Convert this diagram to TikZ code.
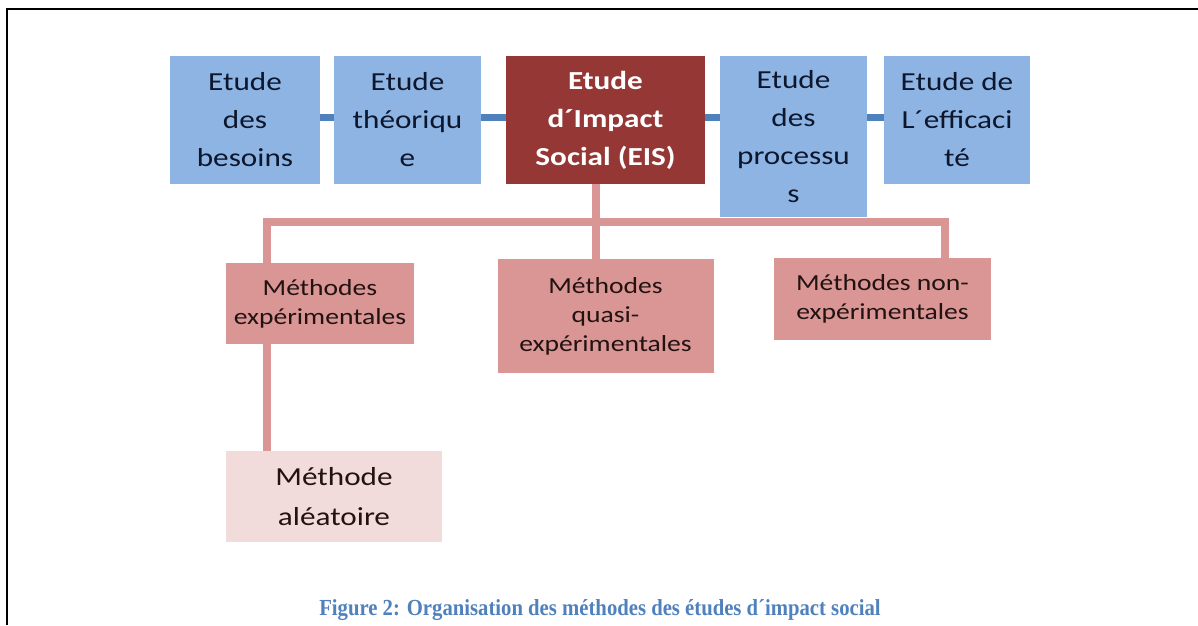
\documentclass[tikz,border=0pt]{standalone}
\usepackage{fontspec}
\newfontfamily\boxfont[FakeStretch=1.2]{Carlito}
\newfontfamily\capfont[FakeStretch=0.9]{Liberation Serif}
\definecolor{bluebox}{RGB}{142,180,227}
\definecolor{blueline}{RGB}{79,129,189}
\definecolor{eisred}{RGB}{149,55,53}
\definecolor{pinkbox}{RGB}{217,150,148}
\definecolor{pinkline}{RGB}{217,150,148}
\definecolor{palepink}{RGB}{242,220,219}
\definecolor{topink}{RGB}{12,22,45}
\definecolor{lowink}{RGB}{35,18,18}
\definecolor{capblue}{RGB}{79,129,189}
\tikzset{
  topbox/.style={fill=bluebox, draw=none, align=center, inner sep=0pt,
    text=topink, font=\boxfont\fontsize{26}{38}\selectfont},
  eisbox/.style={fill=eisred, draw=none, align=center, inner sep=0pt,
    text=white, font=\boxfont\bfseries\fontsize{26}{38}\selectfont},
  methbox/.style={fill=pinkbox, draw=none, align=center, inner sep=0pt,
    text=lowink, font=\boxfont\fontsize{23}{29}\selectfont},
  alebox/.style={fill=palepink, draw=none, align=center, inner sep=0pt,
    text=lowink, font=\boxfont\fontsize{26}{40}\selectfont},
  blueconn/.style={draw=blueline, line width=7pt},
  pinkconn/.style={draw=pinkline, line width=8pt},
}
\begin{document}
\begin{tikzpicture}[x=1pt,y=-1pt]
\useasboundingbox (0,0) rectangle (1198,625);
\fill[white] (0,0) rectangle (1198,625);
\draw[line width=2pt] (7,625) -- (7,9) -- (1198,9);
% helper coordinates
\coordinate (hy) at (0,117);
\coordinate (jl) at (267,222);
\coordinate (jm) at (596,222);
\coordinate (jr) at (945,222);
% top boxes
\node[topbox, minimum width=150pt, minimum height=128pt] (b1) at (245,120) {Etude\\des\\besoins};
\node[topbox, minimum width=147pt, minimum height=128pt] (b2) at (407.5,120) {Etude\\théoriqu\\e};
\node[eisbox, minimum width=199pt, minimum height=128pt] (eis) at (605.5,120) {Etude\\d´Impact\\Social (EIS)};
\node[topbox, minimum width=147pt, minimum height=161pt] (b4) at (793.5,136.5) {Etude\\des\\processu\\s};
\node[topbox, minimum width=146pt, minimum height=128pt] (b5) at (957,120) {Etude de\\L´efficaci\\té};
% lower boxes
\node[methbox, minimum width=188pt, minimum height=81pt] (exp) at (320,303.5) {Méthodes\\expérimentales};
\node[methbox, minimum width=216pt, minimum height=114pt] (quasi) at (605.5,316) {Méthodes\\quasi-\\expérimentales};
\node[methbox, minimum width=217pt, minimum height=82pt] (non) at (882.5,299) {Méthodes non-\\expérimentales};
\node[alebox, minimum width=216pt, minimum height=91pt] (alea) at (334,496.5) {Méthode\\aléatoire};
% connectors
\draw[blueconn] (b1.east |- hy) -- (b2.west |- hy);
\draw[blueconn] (b2.east |- hy) -- (eis.west |- hy);
\draw[blueconn] (eis.east |- hy) -- (b4.west |- hy);
\draw[blueconn] (b4.east |- hy) -- (b5.west |- hy);
\draw[pinkconn] (eis.south -| jm) -- (quasi.north -| jm);
\draw[pinkconn] (exp.north -| jl) -- (jl) -- (jr) -- (non.north -| jr);
\draw[pinkconn] (exp.south -| jl) -- (alea.north -| jl);
% caption
\node[text=capblue, font=\capfont\bfseries\fontsize{23}{27}\selectfont, anchor=base] (cap) at (600,615) {Figure 2: Organisation des méthodes des études d´impact social};
\end{tikzpicture}
\end{document}
